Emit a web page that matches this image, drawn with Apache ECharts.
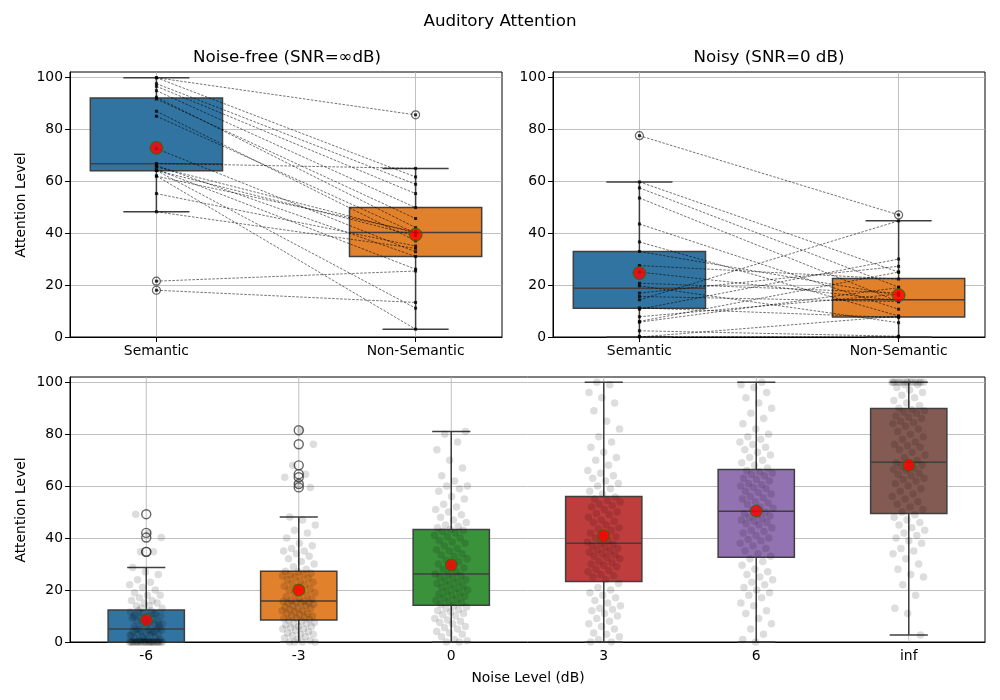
<!DOCTYPE html>
<html><head><meta charset="utf-8">
<script src="https://cdn.jsdelivr.net/npm/echarts@6/dist/echarts.min.js"></script>
<style>html,body{margin:0;padding:0;background:#fff}#c{width:1000px;height:700px}</style>
</head><body><div id="c"></div>
<script>
// ---------- data ----------
const topCategories = ['Semantic', 'Non-Semantic'];
const yTicks = [0, 20, 40, 60, 80, 100];

// Noise-free panel: paired subject scores
const quietSemantic    = [99.8, 99.8, 97.5, 96.5, 94.8, 92.3, 91.6, 86.9, 85.0, 72.5, 66.8, 65.5, 64.1, 64.1, 62.0, 61.9, 55.2, 48.2, 66.0, 64.5, 21.5, 18.0];
const quietNonSemantic = [85.5, 61.6, 58.8, 55.2, 49.8, 42.1, 45.6, 37.0, 40.0, 32.8, 64.9, 40.0, 39.0, 11.1, 3.0, 40.5, 35.0, 34.1, 31.0, 26.1, 25.4, 13.3];
// [min, Q1, median, Q3, max]
const quietBoxStats = [[48.2, 64.0, 66.7, 92.0, 99.8], [3.0, 31.0, 40.2, 49.8, 64.9]];
const quietOutliers = [[21.5, 18.0], [85.5]];
const quietMeans = [72.8, 39.4];

// Noisy panel
const noisySemantic    = [77.5, 59.7, 57.4, 53.5, 43.5, 36.6, 32.9, 27.5, 25.0, 20.7, 19.7, 16.9, 15.6, 14.3, 11.2, 10.7, 7.8, 5.7, 2.4, 0.0, 6.0, 0.2];
const noisyNonSemantic = [47.0, 25.0, 19.2, 13.6, 10.7, 8.1, 16.0, 22.3, 14.0, 17.0, 5.5, 27.2, 13.6, 44.7, 7.5, 30.0, 16.5, 19.0, 0.3, 8.0, 25.0, 0.0];
const noisyBoxStats = [[0.0, 11.1, 18.8, 32.9, 59.7], [0.0, 7.7, 14.3, 22.5, 44.7]];
const noisyOutliers = [[77.5], [47.0]];
const noisyMeans = [24.6, 16.1];

// Bottom panel
const noiseLevels = ['-6', '-3', '0', '3', '6', 'inf'];
const scoresM6 = [0,0,0,0,0,0,0,0,0,0,0,0,0,0,0,0,0,0,0,0,0,0,0,0,0,0,0,0,
  0.5,1,1,1.5,2,2,2.5,3,3,3,3.5,4,4,4,4.5,4.5,5,5,1.2,2.8,3.8,4.8,
  5.5,6,6,6.5,7,7,7.5,8,8,8.5,9,9,9.5,10,10,10.5,11,11,11.5,12,12,6.8,7.8,9.8,10.8,
  13,13,14,14,15,15,16,16,17,18,18,19,20,21,22,23,24,26,27,28.7,
  34.7,34.7,40.2,42.0,49.2];
const scoresM3 = [0,0,0,0,0.5,1,1.5,2,2.5,3,3,3.5,4,4.5,5,5,5.5,6,6,6.5,7,7,7.5,8,8.3,
  8.7,9,9,9.5,10,10,10.5,11,11,11.5,12,12,12.5,13,13,13.5,14,14,14.5,15,15,15.2,15.5,15.6,15.8,
  16,16.5,17,17.5,18,18.5,19,19.5,20,20.5,21,21.5,22,22.5,23,23.5,24,24.5,25,25.5,26,26,26.5,27,27.2,
  28,29,30,31,32,33,34,35,35,36,37,38,40,42,43,45,47,48.1,
  59.5,60.8,63.4,64.6,68.0,76.1,81.5];
const scores0 = [0,0,0.5,1,2,3,3.5,4,5,5.5,6,7,7.5,8,8.5,9,10,10.5,11,11.5,12,12.5,13,13.5,14,
  14.5,15,15.5,16,16.5,17,17.5,18,18.5,19,19.5,20,20.5,21,21.5,22,22.5,23,23.5,24,24.5,25,25.5,26,26.2,
  27,28,28.5,29,30,31,31.5,32,33,33.5,34,35,35.5,36,37,38,38.5,39,40,40.5,41,42,42.5,43,43.3,
  44,44.5,45,46,47,48,49,50,51,52,53,55,56,58,59,60,60,62,64,67,70,74,77,80,81];
const scores3 = [0,0,1,2,3,3.5,5,6,7,8,9,10,11,12,12.5,13,14,15,16,17,18,19,20,21,22.5,
  24,25,25.5,26,27,27.5,28,29,29.5,30,30.5,31,32,32.5,33,33.5,34,34.5,35,35.5,36,36.5,37,37.5,38,
  38.5,39,40,40.5,41,42,43,43.5,44,45,46,46.5,47,48,49,49.5,50,51,52,52.5,53,54,54.5,55,55.8,
  57,58,59,60,61,62,63,64,65,66,68,70,71,73,75,77,79,82,85,89,92,94,96,99,100];
const scores6 = [0,1,3,5,7,9,11,12,14,15,17,18,19,20,21,22,23,24,25,26,27,28,29.5,31,32,
  33,34,35,36,37,38,39,39.5,40,41,42,42.5,43,44,45,45.5,46,46.5,47,47.5,48,48.5,49,49.5,50,
  51,51.5,52,53,53.5,54,55,55.5,56,57,57.5,58,59,59.5,60,60.5,61,62,62.5,63,64,64.5,65,65.5,66,
  67,68,69,70,71,72,73,74,75,76,77,78,79,80,82,84,86,88,90,92,94,96,98,99,100];
const scoresInf = [2.7,11,13,18,22,25,26,28,30,32,34,35,36,38,39,40,41,42,43,44,45,46,47,48,49,
  50,51,52,53,54,55,56,57,58,59,60,61,62,62.5,63,64,64.5,65,66,66.5,67,67.5,68,68.5,69,
  70,71,72,73,74,75,75.5,76,77,78,79,80,81,82,83,84,84.5,85,86,86.5,87,88,88.5,89,89.5,
  90,91,92,93,94,95,96,97,98,99,99,100,100,100,100,100,100,100,100,100,100,100,100,100,100];
const levelBoxStats = [
  [0.0, 0.0, 5.0, 12.3, 28.7],
  [0.0, 8.5, 15.8, 27.2, 48.1],
  [0.0, 14.1, 26.2, 43.3, 81.0],
  [0.0, 23.3, 38.0, 56.0, 100.0],
  [0.0, 32.6, 50.3, 66.4, 100.0],
  [2.7, 49.5, 69.2, 89.9, 100.0]
];
const levelOutliers = [[34.7, 34.7, 40.2, 42.0, 49.2], [59.5, 60.8, 63.4, 64.6, 68.0, 76.1, 81.5], [], [], [], []];
const levelMeans = [8.5, 20.0, 29.6, 40.9, 50.4, 68.0];

// ---------- styling ----------
const palette = ['#3274a1', '#e1812c', '#3a923a', '#c03d3e', '#9372b2', '#845b53'];
const EDGE = '#3f3f3f';
const FONT = 'DejaVu Sans, sans-serif';
const TICK_FS = 13.9;
const TOP_POS = [1, 4]; // category slots of the two conditions on the top axes
const Y_MAX = 102;

const chart = echarts.init(document.getElementById('c'), null, {renderer: 'canvas'});

function boxRender(colors, widthFrac) {
  return function (params, api) {
    const x = api.value(0);
    const bw = api.size([1, 0])[0] * widthFrac;
    const p = [1, 2, 3, 4, 5].map(k => api.coord([x, api.value(k)]));
    const cx = p[2][0];
    const ls = {stroke: EDGE, lineWidth: 1.5};
    return {type: 'group', children: [
      {type: 'line', shape: {x1: cx, y1: p[1][1], x2: cx, y2: p[0][1]}, style: ls},
      {type: 'line', shape: {x1: cx, y1: p[3][1], x2: cx, y2: p[4][1]}, style: ls},
      {type: 'line', shape: {x1: cx - bw / 4, y1: p[0][1], x2: cx + bw / 4, y2: p[0][1]}, style: ls},
      {type: 'line', shape: {x1: cx - bw / 4, y1: p[4][1], x2: cx + bw / 4, y2: p[4][1]}, style: ls},
      {type: 'rect', shape: {x: cx - bw / 2, y: p[3][1], width: bw, height: p[1][1] - p[3][1]},
        style: {fill: colors[params.dataIndex % colors.length], stroke: EDGE, lineWidth: 1.5}},
      {type: 'line', shape: {x1: cx - bw / 2, y1: p[2][1], x2: cx + bw / 2, y2: p[2][1]}, style: ls}
    ]};
  };
}

function topAxisCats() {
  const a = ['', '', '', '', '', ''];
  a[TOP_POS[0]] = topCategories[0];
  a[TOP_POS[1]] = topCategories[1];
  return a;
}
const showSlot = (i) => i === TOP_POS[0] || i === TOP_POS[1];

function topX(gi) {
  return {
    type: 'category', gridIndex: gi, data: topAxisCats(), boundaryGap: false,
    axisLine: {onZero: false, lineStyle: {color: '#000', width: 1}},
    axisTick: {interval: (i) => showSlot(i), length: 5, lineStyle: {color: '#000'}},
    axisLabel: {interval: 0, color: '#000', fontSize: TICK_FS, fontFamily: FONT, margin: 7},
    splitLine: {show: true, interval: (i) => showSlot(i), lineStyle: {color: '#b0b0b0', width: 0.8}}
  };
}
function yAx(gi) {
  return {
    type: 'value', gridIndex: gi, min: 0, max: Y_MAX, interval: 20,
    axisLine: {show: true, onZero: false, lineStyle: {color: '#000', width: 1}},
    axisTick: {show: true, length: 5, lineStyle: {color: '#000'}, customValues: yTicks},
    axisLabel: {color: '#000', fontSize: TICK_FS, fontFamily: FONT, margin: 7, customValues: yTicks},
    splitLine: {show: true, lineStyle: {color: '#b0b0b0', width: 0.8}}
  };
}

function topSeries(ai, sem, non, stats, outl, means) {
  const s = [];
  s.push({type: 'custom', xAxisIndex: ai, yAxisIndex: ai, z: 1,
    renderItem: boxRender([palette[0], palette[1]], 1.53),
    data: stats.map((b, i) => [TOP_POS[i]].concat(b)), silent: true});
  const fl = [];
  outl.forEach((arr, i) => arr.forEach(v => fl.push([TOP_POS[i], v])));
  s.push({type: 'scatter', xAxisIndex: ai, yAxisIndex: ai, z: 2, symbol: 'circle', symbolSize: 8,
    itemStyle: {color: 'rgba(0,0,0,0)', borderColor: EDGE, borderWidth: 1.2}, data: fl, silent: true});
  s.push({type: 'custom', xAxisIndex: ai, yAxisIndex: ai, z: 3, silent: true,
    data: sem.map((v, i) => [v, non[i]]),
    renderItem: function (params, api) {
      const a = api.coord([TOP_POS[0], api.value(0)]);
      const b = api.coord([TOP_POS[1], api.value(1)]);
      return {type: 'line', shape: {x1: a[0], y1: a[1], x2: b[0], y2: b[1]},
        style: {stroke: 'rgba(0,0,0,0.8)', lineWidth: 0.7, lineDash: [2.5, 1.5]}};
    }});
  const pts = sem.map(v => [TOP_POS[0], v]).concat(non.map(v => [TOP_POS[1], v]));
  s.push({type: 'scatter', xAxisIndex: ai, yAxisIndex: ai, z: 4, symbol: 'rect', symbolSize: 3,
    itemStyle: {color: '#000'}, data: pts, silent: true});
  s.push({type: 'scatter', xAxisIndex: ai, yAxisIndex: ai, z: 5, symbol: 'circle', symbolSize: 13,
    itemStyle: {color: '#ff0000', borderColor: '#008000', borderWidth: 1},
    data: means.map((m, i) => [TOP_POS[i], m]), silent: true});
  return s;
}

const levelScores = [scoresM6, scoresM3, scores0, scores3, scores6, scoresInf];
const stripData = [];
levelScores.forEach((arr, c) => arr.forEach((v, i) => {
  const j = ((i * 0.6180339887 + c * 0.37) % 1) - 0.5;
  stripData.push([c + j * 0.22, v]);
}));
const levelFliers = [];
levelOutliers.forEach((arr, c) => arr.forEach(v => levelFliers.push([c, v])));

const option = {
  animation: false,
  backgroundColor: '#fff',
  textStyle: {fontFamily: FONT},
  grid: [
    {left: 70, right: 498, top: 72, bottom: 363, show: true, borderColor: '#000', borderWidth: 1},
    {left: 553, right: 15, top: 72, bottom: 363, show: true, borderColor: '#000', borderWidth: 1},
    {left: 70, right: 15, top: 377, bottom: 58, show: true, borderColor: '#000', borderWidth: 1}
  ],
  xAxis: [
    topX(0), topX(1),
    {type: 'category', gridIndex: 2, data: noiseLevels,
      axisLine: {onZero: false, lineStyle: {color: '#000', width: 1}},
      axisTick: {alignWithLabel: true, length: 5, lineStyle: {color: '#000'}},
      axisLabel: {color: '#000', fontSize: TICK_FS, fontFamily: FONT, margin: 7},
      splitLine: {show: false}},
    {type: 'value', gridIndex: 2, min: -0.5, max: 5.5, show: false, splitLine: {show: false},
      axisLine: {show: false, onZero: false}}
  ],
  yAxis: [yAx(0), yAx(1), yAx(2)],
  graphic: [
    {type: 'text', x: 500, y: 22, style: {text: 'Auditory Attention', font: '16.7px ' + FONT, fill: '#000', textAlign: 'center', textVerticalAlign: 'middle'}},
    {type: 'text', x: 287, y: 58, style: {text: 'Noise-free (SNR=∞dB)', font: '16.7px ' + FONT, fill: '#000', textAlign: 'center', textVerticalAlign: 'middle'}},
    {type: 'text', x: 769, y: 58, style: {text: 'Noisy (SNR=0 dB)', font: '16.7px ' + FONT, fill: '#000', textAlign: 'center', textVerticalAlign: 'middle'}},
    {type: 'text', x: 21, y: 205, rotation: Math.PI / 2, style: {text: 'Attention Level', font: '13.9px ' + FONT, fill: '#000', textAlign: 'center', textVerticalAlign: 'middle'}},
    {type: 'text', x: 21, y: 510, rotation: Math.PI / 2, style: {text: 'Attention Level', font: '13.9px ' + FONT, fill: '#000', textAlign: 'center', textVerticalAlign: 'middle'}},
    {type: 'text', x: 528, y: 678, style: {text: 'Noise Level (dB)', font: '13.9px ' + FONT, fill: '#000', textAlign: 'center', textVerticalAlign: 'middle'}}
  ],
  series: [].concat(
    topSeries(0, quietSemantic, quietNonSemantic, quietBoxStats, quietOutliers, quietMeans),
    topSeries(1, noisySemantic, noisyNonSemantic, noisyBoxStats, noisyOutliers, noisyMeans),
    [
      {type: 'custom', xAxisIndex: 2, yAxisIndex: 2, z: 0, silent: true,
        data: noiseLevels.map((n, i) => [i]),
        renderItem: function (params, api) {
          const a = api.coord([api.value(0), 0]);
          const b = api.coord([api.value(0), Y_MAX]);
          return {type: 'line', shape: {x1: a[0], y1: a[1], x2: b[0], y2: b[1]},
            style: {stroke: '#b0b0b0', lineWidth: 0.8}};
        }},
      {type: 'custom', xAxisIndex: 2, yAxisIndex: 2, z: 1, silent: true,
        renderItem: boxRender(palette, 0.5),
        data: levelBoxStats.map((b, i) => [i].concat(b))},
      {type: 'scatter', xAxisIndex: 2, yAxisIndex: 2, z: 2, symbol: 'circle', symbolSize: 9,
        itemStyle: {color: 'rgba(0,0,0,0)', borderColor: EDGE, borderWidth: 1.4}, data: levelFliers, silent: true},
      {type: 'scatter', xAxisIndex: 3, yAxisIndex: 2, z: 3, symbol: 'circle', symbolSize: 7.5,
        itemStyle: {color: 'rgba(0,0,0,0.17)'}, data: stripData, silent: true},
      {type: 'scatter', xAxisIndex: 2, yAxisIndex: 2, z: 4, symbol: 'circle', symbolSize: 12,
        itemStyle: {color: '#ff0000', borderColor: '#008000', borderWidth: 1},
        data: levelMeans.map((m, i) => [i, m]), silent: true}
    ]
  )
};
chart.setOption(option);
</script>
</body></html>
